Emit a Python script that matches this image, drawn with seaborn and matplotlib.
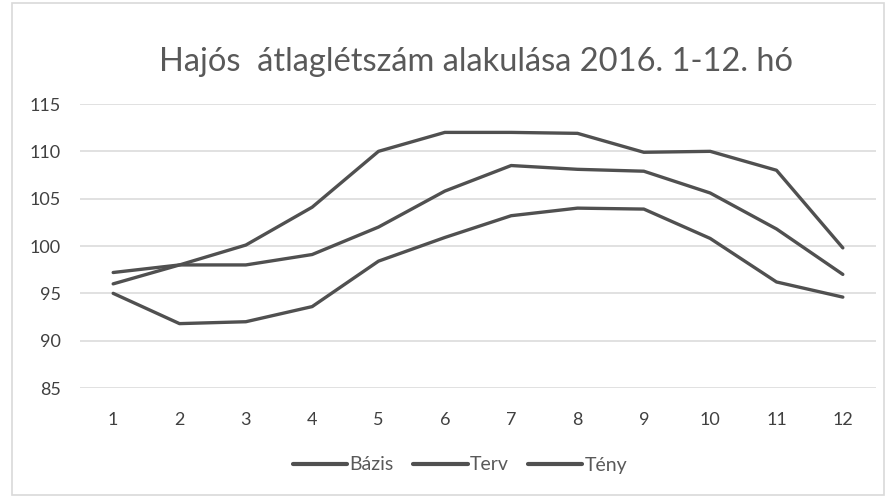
import pandas as pd
import numpy as np
import seaborn as sns
import matplotlib.pyplot as plt
from matplotlib.patches import Rectangle

# havi adatok
months = list(range(1, 13))
bazis = [96.0, 98.0, 100.1, 104.1, 110.0, 112.0, 112.0, 111.9, 109.9, 110.0, 108.0, 99.8]
terv = [97.2, 98.0, 98.0, 99.1, 102.0, 105.8, 108.5, 108.1, 107.9, 105.6, 101.8, 97.0]
teny = [95.0, 91.8, 92.0, 93.6, 98.4, 100.9, 103.2, 104.0, 103.9, 100.8, 96.2, 94.6]
series_names = ['Bázis', 'Terv', 'Tény']
y_ticks = [85, 90, 95, 100, 105, 110, 115]

df = pd.DataFrame({'month': months * 3,
                   'value': bazis + terv + teny,
                   'series': np.repeat(series_names, 12)})

sns.set_theme(style="white")
plt.rcParams['font.family'] = ['Lato', 'DejaVu Sans']

fig = plt.figure(figsize=(8.88, 4.98), dpi=100)
ax = fig.add_axes([80 / 888, 110 / 498, 796 / 888, 284 / 498])

line_color = '#505050'
sns.lineplot(data=df, x='month', y='value', hue='series', hue_order=series_names,
             palette=[line_color] * 3, linewidth=2.4, ax=ax, legend=False)

ax.set_xlim(0.5, 12.5)
ax.set_ylim(85, 115)
ax.set_yticks(y_ticks)
ax.set_xticks(months)
ax.yaxis.grid(True, color='#d9d9d9', linewidth=1.1)
for s in ax.spines.values():
    s.set_visible(False)
ax.tick_params(axis='both', length=0, labelsize=13, labelcolor='#404040')
ax.tick_params(axis='y', pad=14)
ax.tick_params(axis='x', pad=17)
ax.set_xlabel('')
ax.set_ylabel('')

fig.text(476 / 888, 1 - 62 / 498, 'Hajós  átlaglétszám alakulása 2016. 1-12. hó',
         ha='center', va='center', fontsize=23.5, color='#595959')

handles = [plt.Line2D([], [], color=line_color, linewidth=3) for _ in series_names]
fig.legend(handles, series_names, loc='center', bbox_to_anchor=(460 / 888, 1 - 465 / 498),
           ncol=3, frameon=False, fontsize=14, labelcolor='#595959',
           handlelength=2.8, handletextpad=0.1, columnspacing=1.0)

fig.patches.append(Rectangle((12 / 888, 3 / 498), 872 / 888, 492 / 498,
                             transform=fig.transFigure, fill=False,
                             edgecolor='#d9d9d9', linewidth=1.2))

fig.savefig('out.png', dpi=100)
